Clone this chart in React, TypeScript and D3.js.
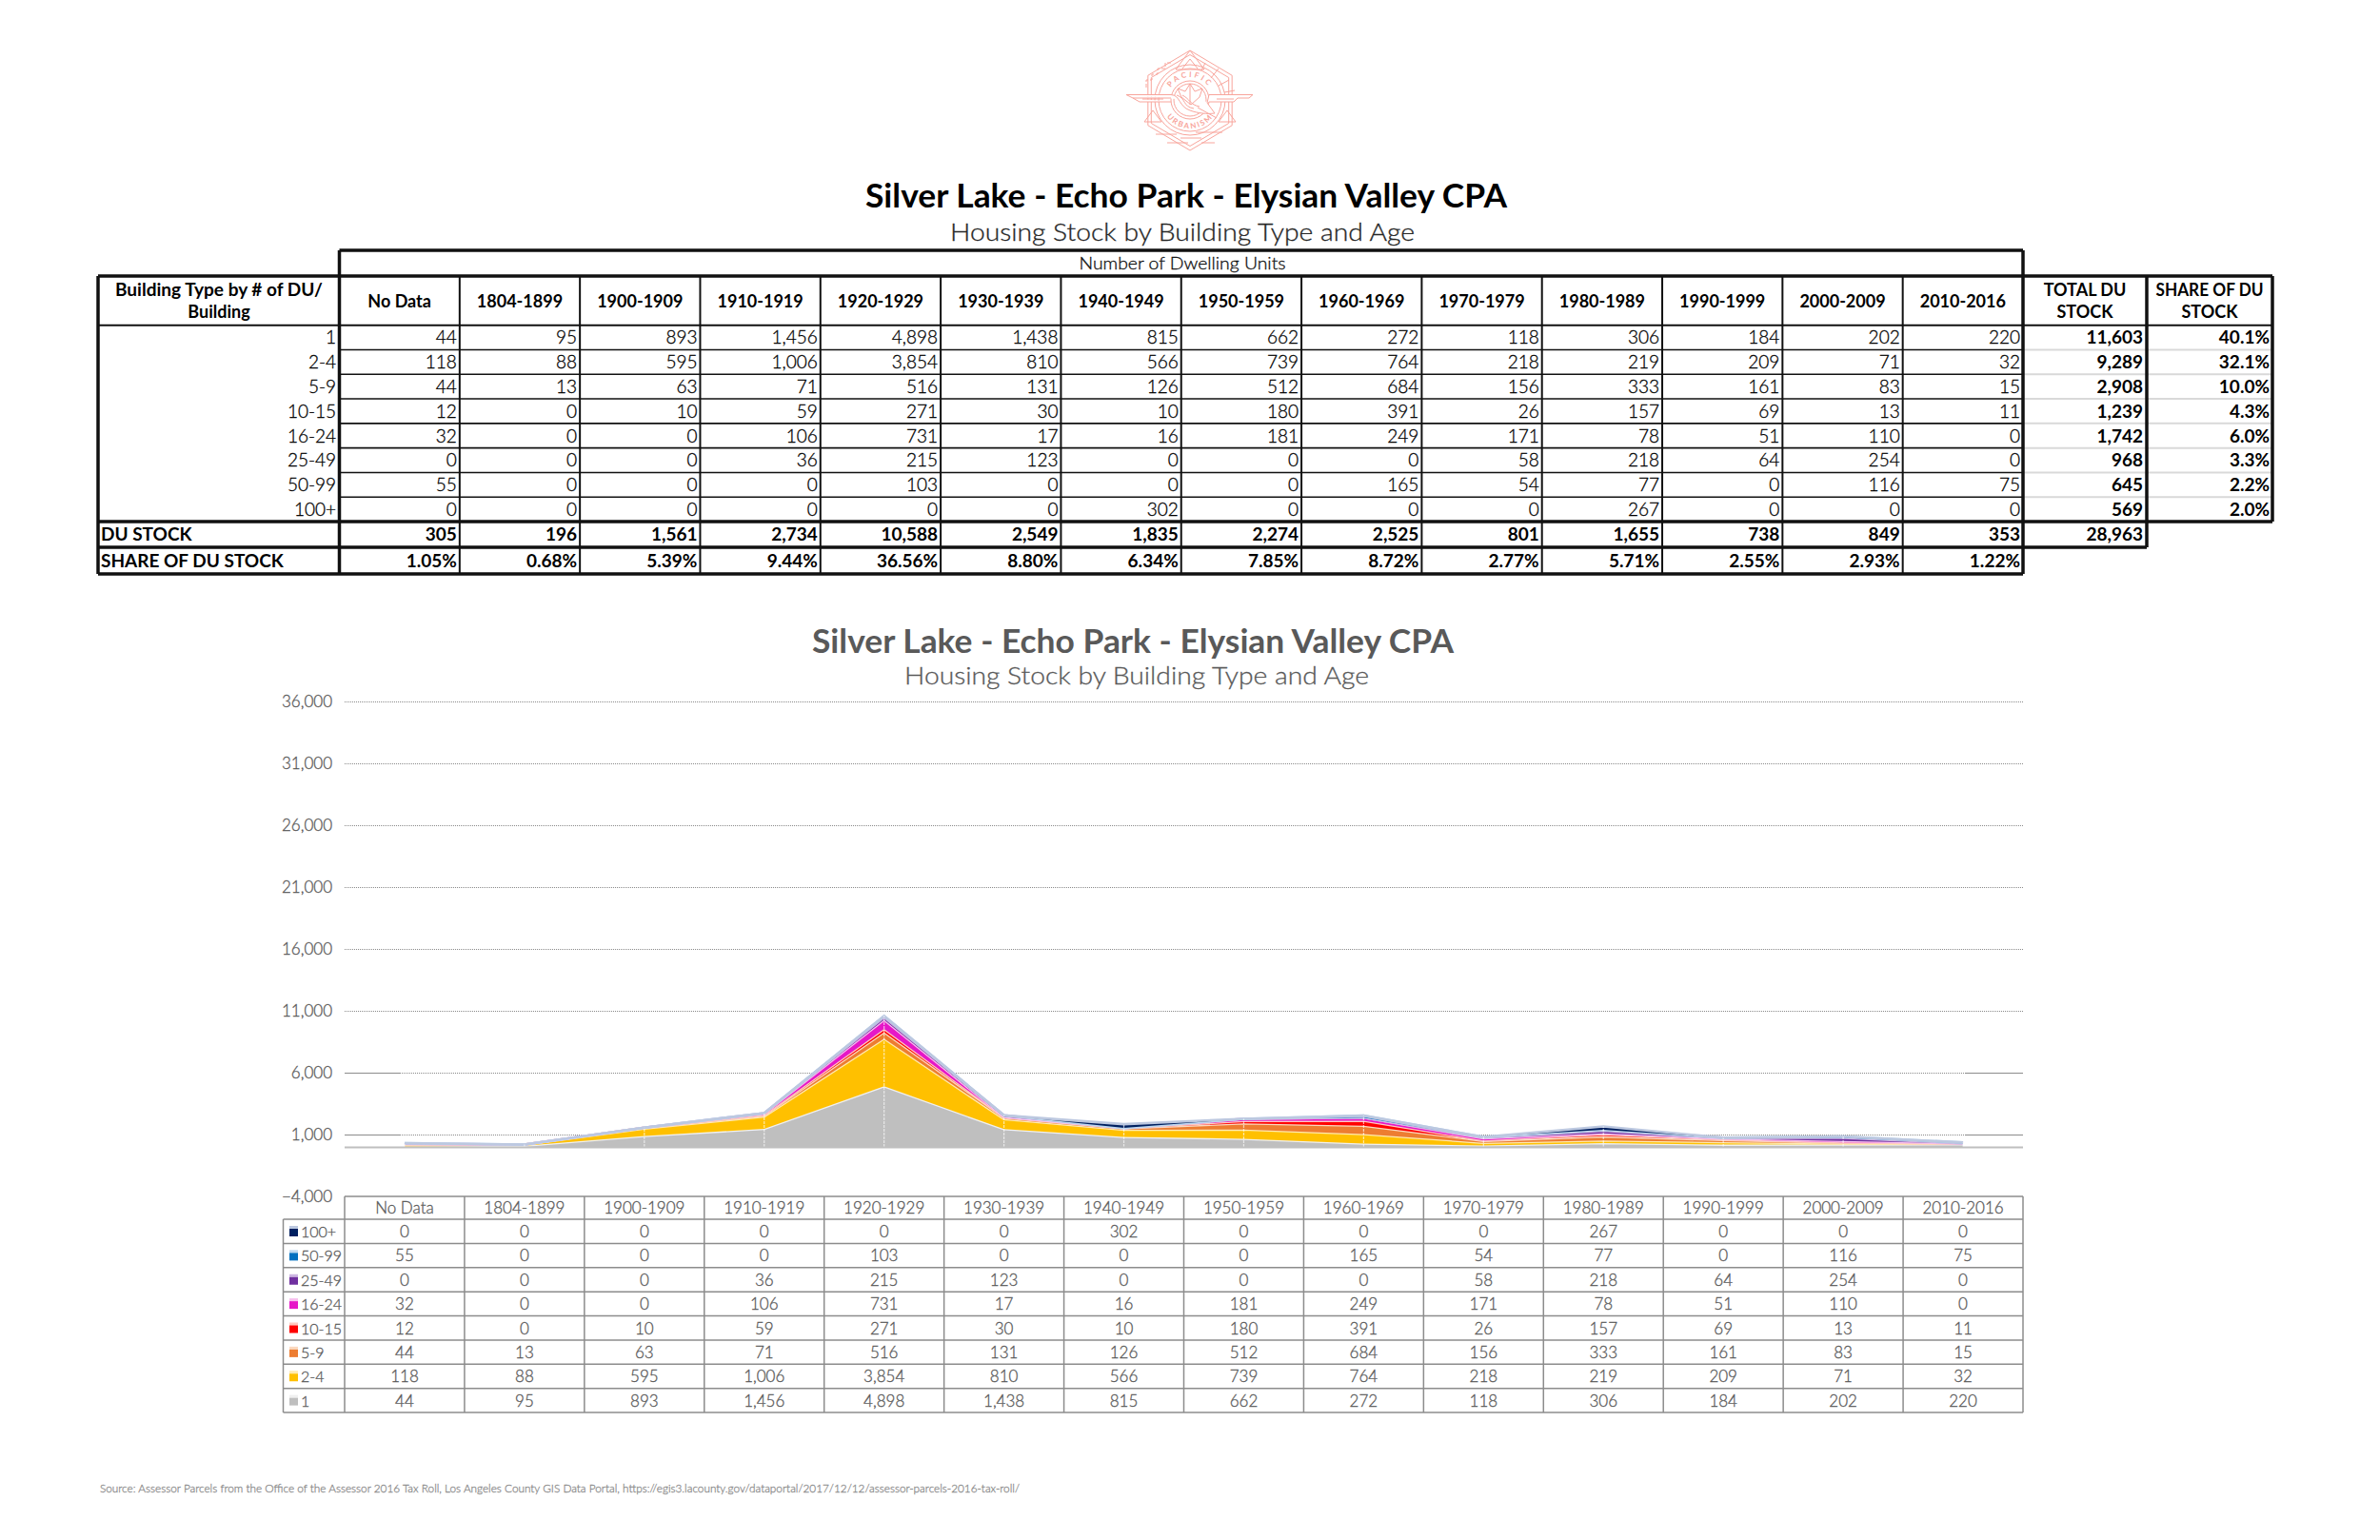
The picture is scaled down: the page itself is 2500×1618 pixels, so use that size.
import React from "react";
import * as d3 from "d3";

const categories = ["No Data","1804-1899","1900-1909","1910-1919","1920-1929","1930-1939","1940-1949","1950-1959","1960-1969","1970-1979","1980-1989","1990-1999","2000-2009","2010-2016"];
const types = ["1","2-4","5-9","10-15","16-24","25-49","50-99","100+"];
const s1 = [44,95,893,1456,4898,1438,815,662,272,118,306,184,202,220];
const s2to4 = [118,88,595,1006,3854,810,566,739,764,218,219,209,71,32];
const s5to9 = [44,13,63,71,516,131,126,512,684,156,333,161,83,15];
const s10to15 = [12,0,10,59,271,30,10,180,391,26,157,69,13,11];
const s16to24 = [32,0,0,106,731,17,16,181,249,171,78,51,110,0];
const s25to49 = [0,0,0,36,215,123,0,0,0,58,218,64,254,0];
const s50to99 = [55,0,0,0,103,0,0,0,165,54,77,0,116,75];
const s100 = [0,0,0,0,0,0,302,0,0,0,267,0,0,0];
const allSeries = [s1,s2to4,s5to9,s10to15,s16to24,s25to49,s50to99,s100];
const duStock = [305,196,1561,2734,10588,2549,1835,2274,2525,801,1655,738,849,353];
const duShare = ["1.05%","0.68%","5.39%","9.44%","36.56%","8.80%","6.34%","7.85%","8.72%","2.77%","5.71%","2.55%","2.93%","1.22%"];
const totals = [11603,9289,2908,1239,1742,968,645,569];
const totalShare = ["40.1%","32.1%","10.0%","4.3%","6.0%","3.3%","2.2%","2.0%"];
const grandTotal = 28963;
const yTicks = [-4000,1000,6000,11000,16000,21000,26000,31000,36000];
const fills = ["#bfbfbf","#ffc000","#ed7d31","#ff0000","#e617c8","#7030a0","#0070c0","#002060"];
const tops = ["#f0f0f0","#ffeab0","#fbd9bf","#ffc9c0","#f8bfee","#cdb6e2","#bcd8f0","#bcc8e0"];

const FONT = "Lato, 'Open Sans', sans-serif";
const fmt = d3.format(",");

const xTop = d3.scaleBand<string>().domain(categories).range([356.5, 2125]);
const xChart = d3.scaleBand<string>().domain(categories).range([362, 2125]);
const rowTop = d3.scaleBand<string>().domain(types).range([341.7, 548]);
const rowBottom = d3.scaleBand<string>().domain([...types].reverse()).range([1281, 1484]);
const y = d3.scaleLinear().domain([-4000, 36000]).range([1257, 737]);
const cx = (c: string) => xChart(c)! + xChart.bandwidth() / 2;

const rows = categories.map((c, i) => {
  const r: Record<string, number | string> = { c };
  types.forEach((t, k) => (r[t] = allSeries[k][i]));
  return r;
});
const stacked = d3.stack<any>().keys(types)(rows);
const areaGen = d3.area<any>().x(d => cx(d.data.c)).y0(d => y(d[0])).y1(d => y(d[1]));
const topGen = d3.line<any>().x(d => cx(d.data.c)).y(d => y(d[1]));

const Line = ({ x1, y1, x2, y2, w = 1.5, c = "#111" }: any) => <line x1={x1} y1={y1} x2={x2} y2={y2} stroke={c} strokeWidth={w} />;
const T = ({ x, y, a = "middle", s = 19, b = false, c = "#000", w, children }: any) => (
  <text x={x} y={y} textAnchor={a} fontSize={s} fontWeight={b ? 700 : 300} fill={c} stroke={b ? "none" : c} strokeWidth={b ? 0 : 0.3} fontFamily={FONT} textLength={w} lengthAdjust={w ? "spacingAndGlyphs" : undefined}>{children}</text>
);

function Logo() {
  const c = "#f8a59c";
  const hex = (r: number, rx: number) => d3.range(6).map(i => { const a = Math.PI / 3 * i - Math.PI / 2; return `${1250 + rx * Math.cos(a)},${105.5 + r * Math.sin(a)}`; }).join(" ");
  return (
    <g fill="none" stroke={c} strokeWidth={1}>
      <polygon points={hex(52.5, 51)} />
      <polygon points={hex(48, 47)} />
      <circle cx={1250} cy={105} r={37} />
      <circle cx={1250} cy={105} r={33} />
      <circle cx={1250} cy={105} r={20} />
      <circle cx={1250} cy={105} r={17} />
      <path fill="#fff" d="M1183 99.5H1230C1240 100 1238 112 1250 116C1258 119 1268 120 1276 119L1268 108L1270 99.5H1316L1312 103H1300L1296 107H1270M1183 99.5L1190 103H1230M1190 103L1197 107H1230" />
      <path d="M1200 104H1222M1278 104H1296M1236 100C1246 103 1242 112 1254 114M1242 100C1250 104 1250 110 1260 112M1258 113L1278 124" />
      <path d="M1250 88L1255 96L1263 93L1260 102L1251 110L1241 102L1237 93L1245 96Z M1250 88V110" />
      <path d="M1250 53L1235 73H1265Z M1250 62L1242 72M1250 62L1258 72" />
      <path d="M1202 128L1211 116L1220 128Z M1298 128L1289 116L1280 128Z" />
      <path d="M1266 66L1262 74M1280 72L1272 82M1291 84L1280 90M1297 95L1286 97" />
      <path d="M1204 92V84H1210V78H1216V72H1224V66H1232" strokeDasharray="4 2" />
      <path d="M1214 141H1236M1240 145H1262M1226 150H1248M1256 139H1284M1262 150H1276" />
      <defs>
        <path id="lt" d="M1226 105A24 24 0 0 1 1274 105" />
        <path id="lb" d="M1220 105A30 30 0 0 0 1280 105" />
      </defs>
      <text fontFamily={FONT} fontSize={8} fontWeight={700} fill={c} stroke="none" letterSpacing={2.6} textAnchor="middle"><textPath href="#lt" startOffset="50%">PACIFIC</textPath></text>
      <text fontFamily={FONT} fontSize={8} fontWeight={700} fill={c} stroke="none" letterSpacing={1.8} textAnchor="middle"><textPath href="#lb" startOffset="50%">URBANISM</textPath></text>
    </g>
  );
}

export default function App() {
  const bw = xTop.bandwidth();
  const xs = categories.map(c => xTop(c)!);
  const rh = rowTop.bandwidth();
  const rb = rowBottom.bandwidth();
  const grey = "#8c8c8c";
  const px = (v: number) => Math.round(y(v)) + 0.5;
  return (
    <svg width={2500} height={1618} style={{ position: "absolute", left: 0, top: 0, background: "#fff" }}>
      <Logo />
      <T x={1246} y={218} s={34} b w={674}>Silver Lake - Echo Park - Elysian Valley CPA</T>
      <T x={1242} y={253} s={26} c="#262626" w={488}>Housing Stock by Building Type and Age</T>

      {/* top table */}
      <T x={1242} y={283} s={17} c="#111" w={217}>Number of Dwelling Units</T>
      {types.map(t => <Line key={t} x1={2125} x2={2387} y1={rowTop(t)! + rh} y2={rowTop(t)! + rh} w={2} c="#d9d9d9" />)}
      {types.slice(0, 7).map(t => <Line key={t} x1={356.5} x2={2125} y1={rowTop(t)! + rh} y2={rowTop(t)! + rh} w={1.6} />)}
      {xs.slice(1).map(x => <Line key={x} x1={x} x2={x} y1={290} y2={603} w={2} />)}
      <Line x1={356.5} x2={2125} y1={263} y2={263} w={3.5} />
      <Line x1={356.5} x2={356.5} y1={263} y2={603} w={3.5} />
      <Line x1={2125} x2={2125} y1={263} y2={603} w={3.5} />
      <Line x1={103} x2={2387} y1={290} y2={290} w={3.5} />
      <Line x1={103} x2={2387} y1={341.7} y2={341.7} w={2} />
      <Line x1={103} x2={2387} y1={548} y2={548} w={3.5} />
      <Line x1={103} x2={2255} y1={575} y2={575} w={3.5} />
      <Line x1={103} x2={2125} y1={603} y2={603} w={3.5} />
      <Line x1={103} x2={103} y1={290} y2={603} w={3.5} />
      <Line x1={2255} x2={2255} y1={290} y2={575} w={3.5} />
      <Line x1={2387} x2={2387} y1={290} y2={548} w={3.5} />

      <T x={230} y={311} s={18} b w={218}>Building Type by # of DU/</T>
      <T x={230} y={334} s={18} b>Building</T>
      {categories.map(c => <T key={c} x={xTop(c)! + bw / 2} y={323} s={18} b>{c}</T>)}
      <T x={2190} y={311} s={18} b>TOTAL DU</T>
      <T x={2190} y={334} s={18} b>STOCK</T>
      <T x={2321} y={311} s={18} b w={113}>SHARE OF DU</T>
      <T x={2321} y={334} s={18} b>STOCK</T>

      {types.map((t, k) => {
        const yy = rowTop(t)! + rh - 6;
        return (
          <g key={t}>
            <T x={353} y={yy} a="end">{t}</T>
            {categories.map((c, i) => <T key={c} x={xTop(c)! + bw - 3} y={yy} a="end">{fmt(allSeries[k][i])}</T>)}
            <T x={2251} y={yy} a="end" b>{fmt(totals[k])}</T>
            <T x={2384} y={yy} a="end" b>{totalShare[k]}</T>
          </g>
        );
      })}
      <T x={106} y={568} a="start" b>DU STOCK</T>
      <T x={106} y={596} a="start" b>SHARE OF DU STOCK</T>
      {categories.map((c, i) => (
        <g key={c}>
          <T x={xTop(c)! + bw - 3} y={568} a="end" b>{fmt(duStock[i])}</T>
          <T x={xTop(c)! + bw - 3} y={596} a="end" b>{duShare[i]}</T>
        </g>
      ))}
      <T x={2251} y={568} a="end" b>{fmt(grandTotal)}</T>

      {/* chart */}
      <T x={1190} y={686} s={34} b c="#595959" w={674}>Silver Lake - Echo Park - Elysian Valley CPA</T>
      <T x={1194} y={719} s={26} c="#595959" w={488}>Housing Stock by Building Type and Age</T>

      {yTicks.map(v => (
        <g key={v}>
          <T x={349} y={y(v) + 6} a="end" s={17} c="#595959">{fmt(v)}</T>
          {v > -4000 && <line x1={362} x2={2125} y1={px(v)} y2={px(v)} stroke="#8a8a8a" strokeWidth={1} strokeDasharray="1 1" />}
          {(v === 1000 || v === 6000) && <>
            <line x1={362} x2={420} y1={px(v)} y2={px(v)} stroke="#8c8c8c" strokeWidth={1} />
            <line x1={2065} x2={2125} y1={px(v)} y2={px(v)} stroke="#8c8c8c" strokeWidth={1} />
          </>}
        </g>
      ))}
      {stacked.map((s, k) => (
        <g key={k}>
          <path d={areaGen(s)!} fill={fills[k]} />
          <path d={topGen(s)!} fill="none" stroke={tops[k]} strokeWidth={2.6} />
        </g>
      ))}
      {categories.map((c, i) => (
        <line key={c} x1={cx(c)} x2={cx(c)} y1={y(0)} y2={y(duStock[i])} stroke="#fff" strokeOpacity={0.65} strokeWidth={1.2} strokeDasharray="3 1" />
      ))}
      <line x1={362} x2={2125} y1={y(0) + 0.5} y2={y(0) + 0.5} stroke="#bfbfbf" strokeWidth={2} />

      {/* data table */}
      <g stroke={grey} strokeWidth={1.5}>
        {[...xChart.domain().map(c => xChart(c)!), 2125].map(x => <line key={x} x1={x} x2={x} y1={1257} y2={1484} />)}
        <line x1={297.5} x2={297.5} y1={1281} y2={1484} />
        <line x1={362} x2={2125} y1={1257} y2={1257} />
        <line x1={297.5} x2={2125} y1={1281} y2={1281} />
        {types.map(t => <line key={t} x1={297.5} x2={2125} y1={rowBottom(t)! + rb} y2={rowBottom(t)! + rb} />)}
      </g>
      {categories.map(c => <T key={c} x={cx(c)} y={1275} s={17} c="#595959">{c}</T>)}
      {types.map((t, k) => {
        const ry = rowBottom(t)!;
        return (
          <g key={t}>
            <rect x={304} y={ry + 7} width={9} height={3} fill={tops[k]} />
            <rect x={304} y={ry + 10} width={9} height={8} fill={fills[k]} />
            <T x={316} y={ry + 19} a="start" s={16} c="#595959">{t}</T>
            {categories.map((c, i) => <T key={c} x={cx(c)} y={ry + 19} s={17} c="#595959">{fmt(allSeries[k][i])}</T>)}
          </g>
        );
      })}

      <T x={105} y={1568} a="start" s={12} c="#8c8c8c" w={966}>Source: Assessor Parcels from the Office of the Assessor 2016 Tax Roll, Los Angeles County GIS Data Portal, https://egis3.lacounty.gov/dataportal/2017/12/12/assessor-parcels-2016-tax-roll/</T>
    </svg>
  );
}
